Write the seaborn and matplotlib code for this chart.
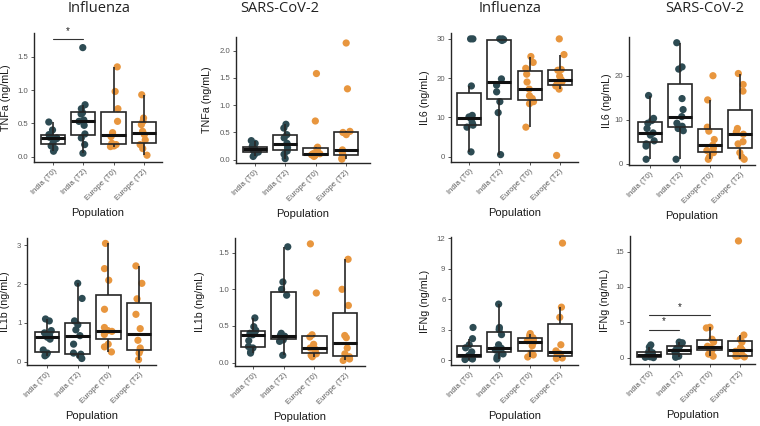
import numpy as np
import pandas as pd
import matplotlib
matplotlib.use("Agg")
import matplotlib.pyplot as plt
import seaborn as sns

# cytokine levels (ng/mL), per group:
# India (T0), India (T2), Europe (T0), Europe (T2)
groups = ["India (T0)", "India (T2)", "Europe (T0)", "Europe (T2)"]

tnfa_flu = [
    [0.08, 0.12, 0.16, 0.21, 0.27, 0.28, 0.29, 0.31, 0.33, 0.40, 0.52],
    [0.05, 0.18, 0.28, 0.34, 0.47, 0.53, 0.55, 0.64, 0.66, 0.72, 0.78, 1.64],
    [0.15, 0.16, 0.18, 0.20, 0.30, 0.36, 0.53, 0.72, 0.98, 1.35],
    [0.02, 0.12, 0.18, 0.25, 0.33, 0.38, 0.48, 0.53, 0.58, 0.93],
]
tnfa_cov = [
    [0.06, 0.10, 0.14, 0.16, 0.18, 0.19, 0.20, 0.23, 0.25, 0.30, 0.35],
    [0.02, 0.10, 0.16, 0.22, 0.28, 0.30, 0.40, 0.46, 0.58, 0.65],
    [0.06, 0.08, 0.09, 0.10, 0.11, 0.11, 0.19, 0.21, 0.23, 0.71, 1.58],
    [0.01, 0.03, 0.07, 0.10, 0.15, 0.18, 0.46, 0.50, 0.52, 1.30, 2.14],
]
il6_flu = [
    [1.2, 7.5, 8.0, 8.6, 9.6, 10.1, 10.5, 18.0, 30.0, 30.0],
    [0.5, 11.2, 14.0, 16.5, 18.2, 19.8, 29.6, 29.8, 30.0, 30.0],
    [7.5, 13.5, 14.0, 14.8, 15.5, 17.2, 19.0, 21.0, 22.5, 24.0, 25.5],
    [0.3, 17.2, 18.0, 18.6, 19.0, 19.6, 20.5, 22.0, 22.2, 26.0, 30.0],
]
il6_cov = [
    [1.0, 4.0, 4.5, 5.2, 6.5, 7.0, 8.0, 9.2, 9.8, 10.3, 15.5],
    [1.0, 7.5, 8.0, 8.5, 9.2, 10.7, 12.3, 14.8, 21.5, 22.0, 27.5],
    [1.0, 1.5, 2.5, 3.0, 3.5, 4.2, 5.5, 7.4, 8.3, 14.5, 20.0],
    [1.0, 1.5, 2.5, 4.5, 5.0, 6.7, 7.2, 8.0, 16.5, 18.0, 20.5],
]
il1b_flu = [
    [0.15, 0.18, 0.22, 0.30, 0.58, 0.63, 0.68, 0.74, 0.80, 1.05, 1.10],
    [0.08, 0.15, 0.19, 0.22, 0.45, 0.67, 0.82, 0.95, 1.05, 1.63, 2.02],
    [0.25, 0.38, 0.45, 0.70, 0.78, 0.80, 0.88, 1.35, 2.10, 2.40, 3.05],
    [0.05, 0.22, 0.28, 0.35, 0.55, 0.85, 1.22, 1.62, 2.02, 2.47],
]
il1b_cov = [
    [0.13, 0.15, 0.20, 0.22, 0.30, 0.38, 0.40, 0.41, 0.44, 0.49, 0.61],
    [0.10, 0.29, 0.31, 0.33, 0.36, 0.37, 0.40, 0.92, 1.00, 1.10, 1.58],
    [0.08, 0.10, 0.12, 0.14, 0.18, 0.20, 0.25, 0.35, 0.38, 0.95, 1.62],
    [0.03, 0.05, 0.08, 0.12, 0.20, 0.34, 0.37, 0.78, 1.00, 1.41],
]
ifng_flu = [
    [0.05, 0.10, 0.20, 0.30, 0.40, 0.45, 0.80, 1.20, 1.50, 2.10, 3.20],
    [0.10, 0.30, 0.60, 0.90, 1.00, 1.15, 1.50, 2.50, 3.00, 3.20, 5.50],
    [0.3, 0.5, 0.7, 1.4, 1.7, 1.9, 2.0, 2.2, 2.4, 2.6],
    [0.15, 0.20, 0.30, 0.60, 0.75, 0.90, 1.50, 4.20, 5.20, 11.5],
]
ifng_cov = [
    [0.0, 0.05, 0.12, 0.20, 0.30, 0.40, 0.55, 0.70, 0.80, 1.5, 1.8],
    [0.05, 0.20, 0.45, 0.60, 0.90, 1.10, 1.30, 1.60, 1.80, 2.10, 2.20],
    [0.2, 0.5, 1.0, 1.2, 1.4, 1.6, 2.2, 2.6, 4.2, 4.3],
    [0.10, 0.20, 0.25, 0.35, 0.90, 1.10, 1.40, 2.20, 2.60, 3.20, 16.5],
]

# significance brackets: (panel, group a, group b, height)
sig_bars = [(0, 0, 1, 1.77), (7, 0, 1, 3.96), (7, 0, 2, 5.98)]

titles = ["Influenza", "SARS-CoV-2", "Influenza", "SARS-CoV-2"]
title_x = [99, 280, 510, 705]

teal = "#2d4b53"
orange = "#e8963e"
palette = {"India (T0)": teal, "India (T2)": teal,
           "Europe (T0)": orange, "Europe (T2)": orange}

# panel: data, ylabel, yticks, ticklabels, ylim, xlim, pixel box (l, t, r, b), ylabel right edge
panels = [
    (tnfa_flu, "TNFa (ng/mL)", [0, 0.5, 1, 1.5], ["0.0", "0.5", "1.0", "1.5"], (-0.082, 1.86), (-0.63, 3.6), (34, 33, 162, 162), 11),
    (tnfa_cov, "TNFa (ng/mL)", [0, 0.5, 1, 1.5, 2], ["0.0", "0.5", "1.0", "1.5", "2.0"], (-0.06, 2.25), (-0.63, 3.8), (236, 37, 370, 163), 212),
    (il6_flu, "IL6 (ng/mL)", [0, 10, 20, 30], ["0", "10", "20", "30"], (-1.38, 31.5), (-0.6, 3.6), (451, 33, 578, 162), 430),
    (il6_cov, "IL6 (ng/mL)", [0, 10, 20], ["0", "10", "20"], (-0.3, 28.8), (-0.7, 3.5), (629, 37, 755, 165), 612),
    (il1b_flu, "IL1b (ng/mL)", [0, 1, 2, 3], ["0", "1", "2", "3"], (-0.088, 3.19), (-0.65, 3.55), (27, 238, 156, 365), 10),
    (il1b_cov, "IL1b (ng/mL)", [0, 0.5, 1, 1.5], ["0.0", "0.5", "1.0", "1.5"], (-0.046, 1.70), (-0.59, 3.65), (235, 238, 365, 366), 205),
    (ifng_flu, "IFNg (ng/mL)", [0, 3, 6, 9, 12], ["0", "3", "6", "9", "12"], (-0.49, 12.1), (-0.6, 3.6), (451, 237, 578, 365), 430),
    (ifng_cov, "IFNg (ng/mL)", [0, 5, 10, 15], ["0", "5", "10", "15"], (-0.9, 17.2), (-0.63, 3.5), (630, 236, 755, 364), 610),
]

sns.set_theme(style="ticks")
plt.rcParams["font.family"] = ["Liberation Sans", "DejaVu Sans"]
np.random.seed(3)

W, H = 760, 426
fig = plt.figure(figsize=(7.6, 4.26), dpi=100)
fig.patch.set_facecolor("white")

line_col = "#262626"
axes = []
for data, ylab, yt, ytl, ylim, xlim, box, ylab_r in panels:
    l, t, r, b = box
    ax = fig.add_axes([l / W, 1 - b / H, (r - l) / W, (b - t) / H])
    df = pd.DataFrame({
        "Population": np.repeat(groups, [len(v) for v in data]),
        "value": np.concatenate(data),
    })
    sns.stripplot(data=df, x="Population", y="value", hue="Population", order=groups,
                  palette=palette, jitter=0.15, size=5.2, linewidth=0, legend=False,
                  ax=ax, zorder=2)
    sns.boxplot(data=df, x="Population", y="value", order=groups, width=0.8,
                showfliers=False, showcaps=False, whis=1.5, ax=ax,
                boxprops=dict(facecolor="none", edgecolor=line_col, linewidth=1.2, zorder=3),
                whiskerprops=dict(color=line_col, linewidth=1.2, zorder=3),
                medianprops=dict(color="#111111", linewidth=2.2, zorder=4))
    ax.set_ylim(*ylim)
    ax.set_xlim(*xlim)
    ax.set_yticks(yt)
    ax.set_yticklabels(ytl)
    ax.set_facecolor("none")
    sns.despine(ax=ax)
    for s in ["left", "bottom"]:
        ax.spines[s].set_color(line_col)
        ax.spines[s].set_linewidth(1.0)
    ax.tick_params(axis="both", length=2.5, width=0.7, color="#555555",
                   labelsize=5.6, labelcolor="#5a5a5a", pad=1.5)
    for lab in ax.get_xticklabels():
        lab.set_rotation(45)
        lab.set_ha("right")
        lab.set_va("top")
        lab.set_rotation_mode("anchor")
    ax.set_xlabel("Population", fontsize=8, color="#1a1a1a")
    ax.xaxis.set_label_coords(0.5, -46 / (b - t))
    ax.set_ylabel(ylab, fontsize=7.7, color="#1a1a1a")
    ax.yaxis.set_label_coords((ylab_r - l) / (r - l), 0.5)
    axes.append(ax)

for p, a, c, h in sig_bars:
    ax = axes[p]
    y0, y1 = ax.get_ylim()
    ax.plot([a, c], [h, h], color="#333333", linewidth=0.8, clip_on=False, zorder=5)
    ax.text((a + c) / 2, h + 0.025 * (y1 - y0), "*", ha="center", va="bottom",
            fontsize=7, color="#222222", clip_on=False)

for txt, x in zip(titles, title_x):
    fig.text(x / W, 1 - 9 / H, txt, ha="center", va="center", fontsize=10.5,
             family=["Open Sans", "DejaVu Sans"], color="#222222")

fig.savefig("out.png", dpi=100)
